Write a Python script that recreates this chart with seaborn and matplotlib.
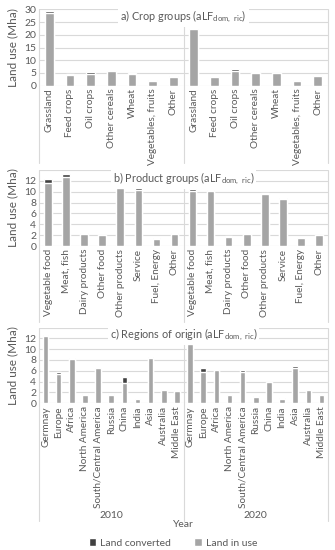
import matplotlib
matplotlib.use("Agg")
import matplotlib.pyplot as plt
import pandas as pd
import seaborn as sns
from matplotlib.patches import Patch

years = ["2010", "2020"]

# a) crop groups
crop_groups = ["Grassland", "Feed crops", "Oil crops", "Other cereals", "Wheat",
               "Vegetables, fruits", "Other"]
crop_use_2010 = [28.4, 4.25, 4.6, 5.7, 4.6, 1.9, 3.5]
crop_conv_2010 = [0.95, 0.2, 0.8, 0.1, 0.25, 0.2, 0.3]
crop_use_2020 = [22.1, 3.3, 5.6, 5.1, 4.8, 2.0, 3.8]
crop_conv_2020 = [0.2, 0.1, 1.0, 0.1, 0.3, 0.1, 0.1]

# b) product groups
product_groups = ["Vegetable food", "Meat, fish", "Dairy products", "Other food",
                  "Other products", "Service", "Fuel, Energy", "Other"]
prod_use_2010 = [11.6, 12.8, 2.2, 2.0, 10.65, 10.3, 1.3, 2.25]
prod_conv_2010 = [0.75, 0.4, 0.15, 0.05, 0.95, 0.3, 0.1, 0.1]
prod_use_2020 = [10.2, 10.2, 1.75, 2.2, 9.55, 8.65, 1.4, 2.05]
prod_conv_2020 = [0.3, 0.15, 0.05, 0.0, 0.2, 0.2, 0.0, 0.0]

# c) regions of origin
regions = ["Germnay", "Europe", "Africa", "North America", "South/Central America",
           "Russia", "China", "India", "Asia", "Australia", "Middle East"]
reg_use_2010 = [12.5, 5.35, 8.25, 1.6, 6.45, 1.45, 3.8, 0.75, 8.45, 2.45, 2.35]
reg_conv_2010 = [0.1, 0.35, 0.1, 0.15, 0.1, 0.3, 1.1, 0.05, 0.05, 0.0, 0.1]
reg_use_2020 = [10.9, 5.85, 6.1, 1.55, 5.8, 1.1, 4.0, 0.85, 6.6, 2.4, 1.55]
reg_conv_2020 = [0.0, 0.6, 0.0, 0.05, 0.3, 0.2, 0.0, 0.05, 0.25, 0.0, 0.0]

panels = [
    ("a) Crop groups (aLF$_{\\mathregular{dom,\\ ric}}$)", crop_groups,
     [crop_use_2010, crop_use_2020], [crop_conv_2010, crop_conv_2020], 30, 5, 0.90),
    ("b) Product groups (aLF$_{\\mathregular{dom,\\ ric}}$)", product_groups,
     [prod_use_2010, prod_use_2020], [prod_conv_2010, prod_conv_2020], 14, 2, 0.89),
    ("c) Regions of origin (aLF$_{\\mathregular{dom,\\ ric}}$)", regions,
     [reg_use_2010, reg_use_2020], [reg_conv_2010, reg_conv_2020], 14, 2, 0.91),
]

sns.set_theme(style="white")
plt.rcParams["font.family"] = ["Lato", "DejaVu Sans"]
txt = "#595959"
light = "#d9d9d9"
gray = "#a5a5a5"
dark = "#404040"

fig = plt.figure(figsize=(3.35, 5.5), dpi=100)
# plot area (top, bottom) in pixels
boxes = [(9.3, 85.7), (170, 246), (327.5, 403.3)]
line_ext = [-1.01, -1.0, -1.55]

for i, (title, cats, use, conv, ymax, step, ty) in enumerate(panels):
    top, bot = boxes[i]
    ax = fig.add_axes([39 / 335, 1 - bot / 550, 289 / 335, (bot - top) / 550])
    rows = []
    for y, u, c in zip(years, use, conv):
        for k, name in enumerate(cats):
            rows.append({"key": f"{y} {name}", "label": name, "year": y,
                         "in_use": u[k], "converted": c[k], "total": u[k] + c[k]})
    df = pd.DataFrame(rows)
    sns.barplot(data=df, x="key", y="total", color=dark, saturation=1,
                width=0.42, ax=ax, zorder=2)
    sns.barplot(data=df, x="key", y="in_use", color=gray, saturation=1,
                width=0.42, ax=ax, zorder=3)
    n = len(df)
    ax.set_xlim(-0.5, n - 0.5)
    ax.set_ylim(0, ymax)
    ticks = list(range(0, ymax + 1, step))
    ax.set_yticks(ticks)
    ax.set_yticklabels([str(t) if not (ymax == 14 and t == 14) else "" for t in ticks],
                       fontsize=7.5, color=txt)
    ax.yaxis.grid(True, color=light, lw=0.8, zorder=0)
    ax.set_axisbelow(True)
    ax.set_xticks(range(n))
    ax.set_xticklabels(df["label"], rotation=90, fontsize=7.2, color=txt,
                       ha="center", va="top")
    ax.tick_params(axis="both", length=0, pad=2)
    for s in ax.spines.values():
        s.set_visible(False)
    ax.set_xlabel("")
    ax.set_ylabel("Land use (Mha)", fontsize=8.5, color=txt, labelpad=4)
    for xv in (-0.5, len(cats) - 0.5, n - 0.5):
        ax.axvline(xv, ymin=line_ext[i], ymax=1, color=light, lw=0.8,
                   clip_on=False, zorder=1)
    ax.text(0.5, ty, title, transform=ax.transAxes, ha="center", va="center",
            fontsize=7.8, color=txt, zorder=5,
            bbox=dict(facecolor="white", edgecolor="none", pad=1.5))

    if i == 2:
        half = len(cats)
        for j, y in enumerate(years):
            ax.text((half - 1) / 2 + j * half, -1.48, y, transform=ax.get_xaxis_transform(),
                    ha="center", va="center", fontsize=7.5, color=txt)
        ax.text(0.5, -1.6, "Year", transform=ax.transAxes, ha="center", va="center",
                fontsize=7.5, color=txt)

handles = [Patch(facecolor=dark, label="Land converted"),
           Patch(facecolor=gray, label="Land in use")]
fig.legend(handles=handles, loc="center", bbox_to_anchor=(173 / 335, 1 - 543 / 550),
           ncol=2, frameon=False, fontsize=7.5, handlelength=0.7, handleheight=0.7,
           columnspacing=2.2, handletextpad=0.4, labelcolor=txt)

fig.savefig("out.png", dpi=100)
